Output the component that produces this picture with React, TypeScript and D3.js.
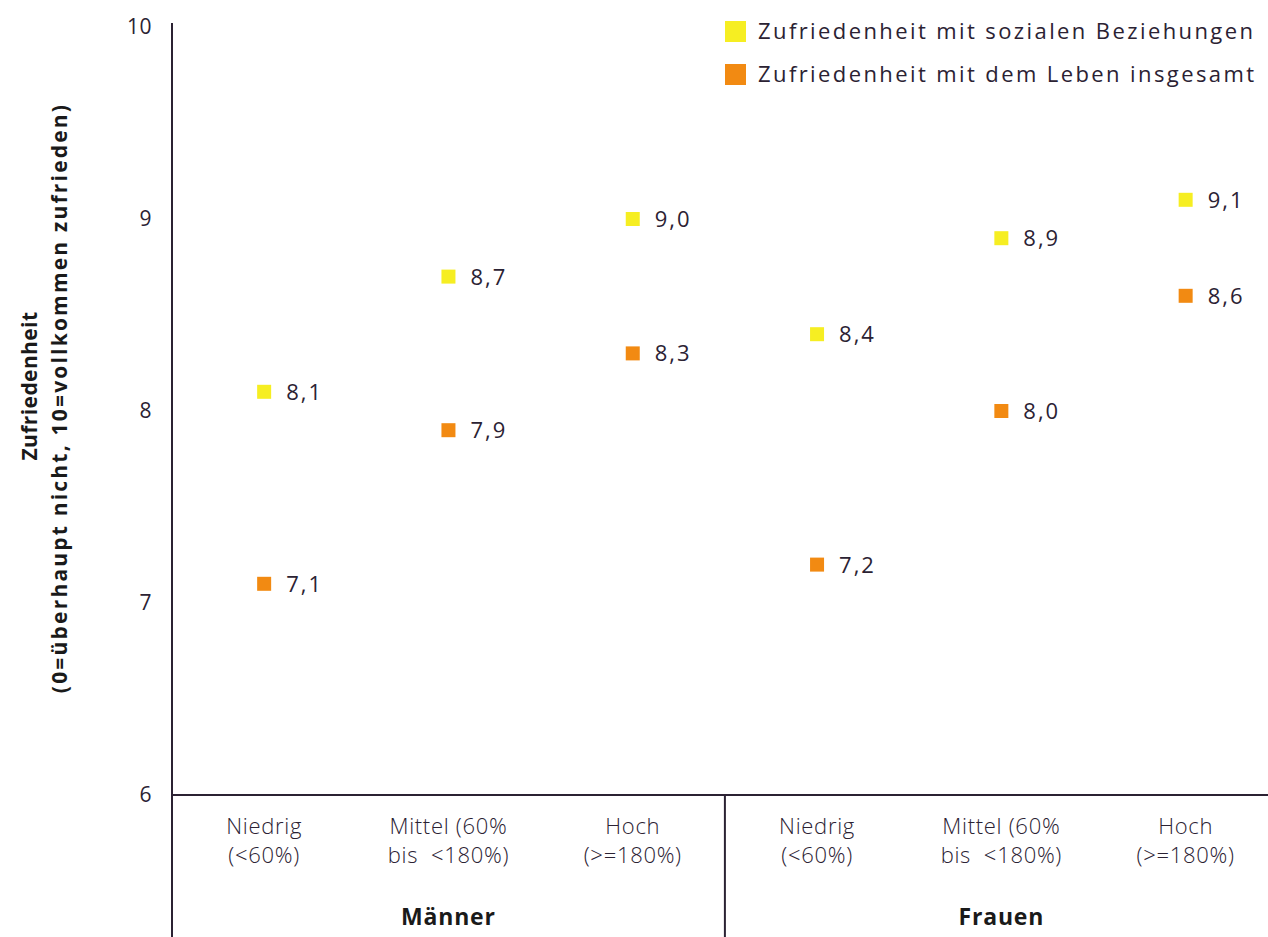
import React from "react";
import * as d3 from "d3";

const categories = ["Niedrig|(<60%)", "Mittel (60%|bis  <180%)", "Hoch|(>=180%)", "Niedrig|(<60%)", "Mittel (60%|bis  <180%)", "Hoch|(>=180%)"];
const groups = ["Männer", "Frauen"];
const sozialeBeziehungen = [8.1, 8.7, 9.0, 8.4, 8.9, 9.1];
const lebenInsgesamt = [7.1, 7.9, 8.3, 7.2, 8.0, 8.6];
const yTicks = [6, 7, 8, 9, 10];
const seriesNames = ["Zufriedenheit mit sozialen Beziehungen", "Zufriedenheit mit dem Leben insgesamt"];
const seriesColors = ["#f6ee22", "#f28a12"];

const W = 1268, H = 937;
const FONT = "'Open Sans', 'Noto Sans', sans-serif";
const TXT = "#2b2233";

export default function App() {
  const x0 = 172;
  const band = 184.3;
  const x = d3.scaleBand<number>().domain(d3.range(6)).range([x0, x0 + band * 6]).paddingInner(0).paddingOuter(0);
  const y = d3.scaleLinear().domain([6, 10]).range([795, 27]);
  const fmt = (v: number) => v.toFixed(1).replace(".", ",");
  const cx = (i: number) => (x(i) as number) + x.bandwidth() / 2;
  const series = [sozialeBeziehungen, lebenInsgesamt];
  const ms = 14;

  return (
    <svg width={W} height={H} style={{ position: "absolute", left: 0, top: 0, background: "#fff" }} fontFamily={FONT}>
      <rect width={W} height={H} fill="#fff" />
      {/* axes */}
      <line x1={x0} x2={x0} y1={y(10) - 4} y2={H} stroke="#2b2233" strokeWidth={2} />
      <line x1={x0} x2={W} y1={y(6)} y2={y(6)} stroke="#2b2233" strokeWidth={2} />
      <line x1={x(3) as number} x2={x(3) as number} y1={y(6)} y2={H} stroke="#2b2233" strokeWidth={2} />
      {yTicks.map((t) => (
        <text key={t} x={152} y={y(t)} dy="0.35em" textAnchor="end" fontSize={21} fill={TXT} letterSpacing={0.5}>{t}</text>
      ))}
      {/* y title */}
      <g transform={`translate(0, 398) rotate(-90)`}>
        <text x={12} y={37} textAnchor="middle" fontSize={21} fontWeight="bold" fill="#1a1a1a" letterSpacing={0.4}>Zufriedenheit</text>
        <text y={67} textAnchor="middle" fontSize={21} fontWeight="bold" fill="#1a1a1a" letterSpacing={2.2}>(0=überhaupt nicht, 10=vollkommen zufrieden)</text>
      </g>
      {/* category labels */}
      {categories.map((c, i) => {
        const [l1, l2] = c.split("|");
        return (
          <g key={i}>
            <text x={cx(i)} y={834} textAnchor="middle" fontSize={22} fontWeight={300} fill={TXT} letterSpacing={0.7}>{l1}</text>
            <text x={cx(i)} y={863} textAnchor="middle" fontSize={22} fontWeight={300} fill={TXT} letterSpacing={0.7} style={{ whiteSpace: "pre" }}>{l2}</text>
          </g>
        );
      })}
      {groups.map((g, gi) => (
        <text key={g} x={cx(gi * 3 + 1)} y={925} textAnchor="middle" fontSize={23} fontWeight="bold" fill="#1a1a1a" letterSpacing={0.8}>{g}</text>
      ))}
      {/* points */}
      {series.map((s, si) => (
        <g key={si}>
          {s.map((v, i) => (
            <g key={i}>
              <rect x={cx(i) - ms / 2} y={y(v) - ms / 2} width={ms} height={ms} fill={seriesColors[si]} />
              <text x={cx(i) + 22} y={y(v)} dy="0.36em" fontSize={22} fill={TXT} letterSpacing={2}>{fmt(v)}</text>
            </g>
          ))}
        </g>
      ))}
      {/* legend */}
      {seriesNames.map((n, i) => (
        <g key={n} transform={`translate(725, ${21 + i * 43})`}>
          <rect x={0} y={0} width={21} height={21} fill={seriesColors[i]} />
          <text x={33} y={10.5} dy="0.36em" fontSize={22} fill={TXT} letterSpacing={2.4}>{n}</text>
        </g>
      ))}
    </svg>
  );
}
